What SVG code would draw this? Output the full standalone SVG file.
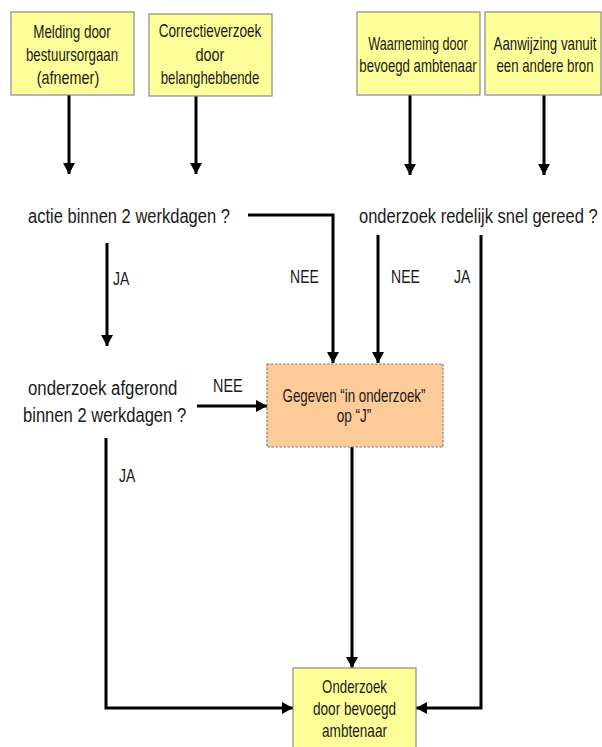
<svg xmlns="http://www.w3.org/2000/svg" width="602" height="747" viewBox="0 0 602 747">
<style>
.box{fill:#FFFF99;stroke:#8a8a8a;stroke-width:1.2}
.obox{fill:#FDCB98;stroke:#7a7a7a;stroke-width:1.2;stroke-dasharray:2.5,1.5}
.bt{font-family:"Liberation Sans",Arial,sans-serif;font-size:18px;fill:#1a1a1a;text-anchor:middle}
.q{font-family:"Liberation Sans",Arial,sans-serif;font-size:21px;fill:#1a1a1a}
.lb{font-family:"Liberation Sans",Arial,sans-serif;font-size:18px;fill:#1a1a1a}
.c{fill:none;stroke:#000;stroke-width:3}
</style>
<defs>
<marker id="ah" markerUnits="userSpaceOnUse" markerWidth="11" markerHeight="12" refX="11" refY="6" orient="auto">
<path d="M0,0 L11,6 L0,12 z" fill="#000"/>
</marker>
</defs>
<rect width="602" height="747" fill="#fff"/>

<g id="connectors">
<path class="c" d="M69,95 V174" marker-end="url(#ah)"/>
<path class="c" d="M196,96 V174" marker-end="url(#ah)"/>
<path class="c" d="M410,95 V175" marker-end="url(#ah)"/>
<path class="c" d="M544,95 V175" marker-end="url(#ah)"/>
<path class="c" d="M248,215 H333 V363" marker-end="url(#ah)"/>
<path class="c" d="M107,243 V346" marker-end="url(#ah)"/>
<path class="c" d="M378,235 V363" marker-end="url(#ah)"/>
<path class="c" d="M481,235 V708 H416" marker-end="url(#ah)"/>
<path class="c" d="M197,406 H267" marker-end="url(#ah)"/>
<path class="c" d="M106,438 V708 H293" marker-end="url(#ah)"/>
<path class="c" d="M352,447 V668" marker-end="url(#ah)"/>
<text class="lb" transform="translate(113,285) scale(.78,1)">JA</text>
<text class="lb" transform="translate(290,283) scale(.78,1)">NEE</text>
<text class="lb" transform="translate(391,283) scale(.78,1)">NEE</text>
<text class="lb" transform="translate(454,283) scale(.78,1)">JA</text>
<text class="lb" transform="translate(213,392) scale(.8,1)">NEE</text>
<text class="lb" transform="translate(119,482) scale(.78,1)">JA</text>
</g>

<g id="melding">
<rect class="box" x="11" y="12" width="123" height="83"/>
<text class="bt" transform="translate(72,38) scale(.746,1)">Melding door</text>
<text class="bt" transform="translate(72,61) scale(.736,1)">bestuursorgaan</text>
<text class="bt" transform="translate(68,84) scale(.8,1)">(afnemer)</text>
</g>

<g id="correctie">
<rect class="box" x="149" y="14" width="123" height="82"/>
<text class="bt" transform="translate(210,37) scale(.755,1)">Correctieverzoek</text>
<text class="bt" transform="translate(210,61) scale(.8,1)">door</text>
<text class="bt" transform="translate(210,84) scale(.736,1)">belanghebbende</text>
</g>

<g id="waarneming">
<rect class="box" x="357" y="12" width="123" height="83"/>
<text class="bt" transform="translate(418,50) scale(.7,1)">Waarneming door</text>
<text class="bt" transform="translate(418,72) scale(.733,1)">bevoegd ambtenaar</text>
</g>

<g id="aanwijzing">
<rect class="box" x="485" y="12" width="116" height="83"/>
<text class="bt" transform="translate(545,50) scale(.74,1)">Aanwijzing vanuit</text>
<text class="bt" transform="translate(545,72) scale(.735,1)">een andere bron</text>
</g>

<g id="actie">
<text class="q" transform="translate(28,223) scale(.787,1)">actie binnen 2 werkdagen ?</text>
</g>

<g id="redelijk">
<text class="q" transform="translate(359,223) scale(.787,1)">onderzoek redelijk snel gereed ?</text>
</g>

<g id="afgerond">
<text class="q" transform="translate(28,395) scale(.8,1)">onderzoek afgerond</text>
<text class="q" transform="translate(23,422) scale(.79,1)">binnen 2 werkdagen ?</text>
</g>

<g id="gegeven">
<rect class="obox" x="267" y="364" width="176" height="83"/>
<text class="bt" transform="translate(354,402) scale(.74,1)">Gegeven “in onderzoek”</text>
<text class="bt" transform="translate(354,422) scale(.755,1)">op “J”</text>
</g>

<g id="onderzoek">
<rect class="box" x="293" y="668" width="123" height="82"/>
<text class="bt" transform="translate(354.5,693) scale(.736,1)">Onderzoek</text>
<text class="bt" transform="translate(354.5,715) scale(.755,1)">door bevoegd</text>
<text class="bt" transform="translate(354.5,737) scale(.755,1)">ambtenaar</text>
</g>
</svg>
